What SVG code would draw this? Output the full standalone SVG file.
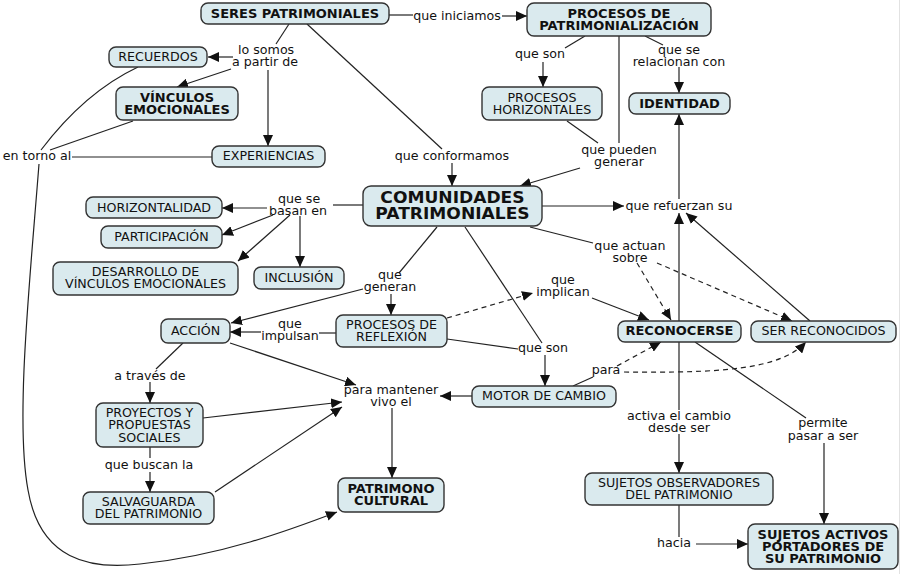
<svg xmlns="http://www.w3.org/2000/svg" width="904" height="574" viewBox="0 0 904 574">
<defs>
<marker id="ar" viewBox="0 0 11 10" markerWidth="11" markerHeight="10" refX="11" refY="5" orient="auto" markerUnits="userSpaceOnUse">
<path d="M0,0 L11,5 L0,10 z" fill="#111"/>
</marker>
<style>
.n rect{fill:#daeaee;stroke:#333;stroke-width:1.4}
.n text,.l text{font-family:"DejaVu Sans",Verdana,sans-serif;font-size:11.5px;fill:#111;text-anchor:middle;transform-box:fill-box;transform-origin:center;transform:scaleX(1.1)}
.b text{font-weight:bold;font-size:11.5px;transform:scaleX(1.13)}
.n text.big{font-weight:bold;font-size:15px;transform:scaleX(1.14)}
.c path,.c line{fill:none;stroke:#222;stroke-width:1.2}
.c .a{marker-end:url(#ar)}
.c .d{stroke-dasharray:5 4}
</style>
</defs>
<rect width="904" height="574" fill="#fff"/>
<line x1="899.5" y1="0" x2="899.5" y2="574" stroke="#e2e2e2" stroke-width="1"/>

<g class="c" id="connectors">
<line x1="389" y1="15" x2="413" y2="15"/>
<line class="a" x1="502" y1="16" x2="527" y2="16"/>
<line x1="289" y1="24" x2="276" y2="44"/>
<line class="a" x1="233" y1="57" x2="208" y2="57"/>
<line class="a" x1="231" y1="69" x2="177" y2="87"/>
<line class="a" x1="268" y1="70" x2="268" y2="146"/>
<line x1="307" y1="24" x2="442" y2="149"/>
<line class="a" x1="452" y1="163" x2="452" y2="186"/>
<line x1="585" y1="36" x2="565" y2="48"/>
<line class="a" x1="543" y1="62" x2="543" y2="87"/>
<line x1="619" y1="36" x2="619" y2="143"/>
<line x1="567" y1="121" x2="598" y2="143"/>
<line class="a" x1="580" y1="168" x2="520" y2="186"/>
<line x1="645" y1="36" x2="663" y2="45"/>
<line class="a" x1="679" y1="67" x2="679" y2="93"/>
<line class="a" x1="679" y1="199" x2="679" y2="114"/>
<line class="a" x1="542" y1="206" x2="624" y2="206"/>
<line class="a" x1="679" y1="321" x2="679" y2="213"/>
<line class="a" x1="810" y1="321" x2="686" y2="213"/>
<line x1="530" y1="227" x2="593" y2="243"/>
<line class="a d" x1="637" y1="263" x2="671" y2="320"/>
<line class="a d" x1="657" y1="263" x2="792" y2="321"/>
<line x1="465" y1="227" x2="542" y2="343"/>
<line x1="447" y1="339" x2="518" y2="349"/>
<line class="a" x1="545" y1="355" x2="545" y2="386"/>
<line x1="573" y1="386" x2="593" y2="377"/>
<line class="a d" x1="617" y1="366" x2="661" y2="342"/>
<path class="a d" d="M624,372 C720,373 780,370 806,342"/>
<line class="a" x1="472" y1="396" x2="440" y2="396"/>
<line x1="437" y1="227" x2="399" y2="273"/>
<line class="a" x1="363" y1="289" x2="231" y2="323"/>
<line class="a" x1="391" y1="294" x2="391" y2="315"/>
<line x1="336" y1="333" x2="319" y2="333"/>
<line class="a" x1="261" y1="332" x2="230" y2="332"/>
<line x1="363" y1="205" x2="333" y2="205"/>
<line class="a" x1="267" y1="208" x2="222" y2="208"/>
<line class="a" x1="273" y1="215" x2="222" y2="235"/>
<line class="a" x1="290" y1="215" x2="238" y2="261"/>
<line class="a" x1="300" y1="216" x2="300" y2="267"/>
<line x1="183" y1="343" x2="156" y2="369"/>
<line class="a" x1="150" y1="382" x2="150" y2="403"/>
<line class="a" x1="230" y1="343" x2="356" y2="385"/>
<line class="a" x1="203" y1="418" x2="342" y2="402"/>
<line x1="150" y1="447" x2="150" y2="458"/>
<line class="a" x1="150" y1="472" x2="150" y2="492"/>
<line class="a" x1="215" y1="492" x2="342" y2="407"/>
<line class="a" x1="392" y1="408" x2="392" y2="478"/>
<path d="M138,67 Q85,92 41,150"/>
<line x1="133" y1="121" x2="50" y2="150"/>
<line x1="212" y1="157" x2="72" y2="157"/>
<path class="a" d="M39,164 C30,280 15,420 28,490 C40,560 90,570 140,564 C220,556 290,530 337,512"/>
<line x1="679" y1="342" x2="679" y2="410"/>
<line class="a" x1="679" y1="434" x2="679" y2="473"/>
<line x1="695" y1="342" x2="806" y2="418"/>
<line class="a" x1="824" y1="443" x2="824" y2="524"/>
<line x1="679" y1="505" x2="679" y2="537"/>
<line class="a" x1="696" y1="544" x2="748" y2="544"/>
<line class="a d" x1="447" y1="318" x2="533" y2="293"/>
<line class="a" x1="592" y1="298" x2="649" y2="320"/>
</g>

<g class="l" id="labels">
<text x="457" y="20">que iniciamos</text>
<text><tspan x="266" y="54">lo somos</tspan><tspan x="265" y="66">a partir de</tspan></text>
<text x="37" y="160.5">en torno al</text>
<text x="452" y="160">que conformamos</text>
<text x="540" y="58">que son</text>
<text><tspan x="679" y="54">que se</tspan><tspan x="679" y="66">relacionan con</tspan></text>
<text><tspan x="619" y="154">que pueden</tspan><tspan x="619" y="166">generar</tspan></text>
<text x="679" y="210">que refuerzan su</text>
<text><tspan x="630" y="250">que actuan</tspan><tspan x="630" y="262">sobre</tspan></text>
<text><tspan x="563" y="284">que</tspan><tspan x="563" y="296">implican</tspan></text>
<text><tspan x="299" y="203">que se</tspan><tspan x="298" y="215">basan en</tspan></text>
<text><tspan x="390" y="279">que</tspan><tspan x="390" y="291">generan</tspan></text>
<text><tspan x="290" y="328">que</tspan><tspan x="290" y="340">impulsan</tspan></text>
<text x="543" y="352">que son</text>
<text x="606" y="374">para</text>
<text><tspan x="391" y="394">para mantener</tspan><tspan x="391" y="406">vivo el</tspan></text>
<text x="150" y="380">a través de</text>
<text x="149" y="469">que buscan la</text>
<text><tspan x="679" y="420">activa el cambio</tspan><tspan x="679" y="432">desde ser</tspan></text>
<text><tspan x="823" y="427">permite</tspan><tspan x="823" y="440">pasar a ser</tspan></text>
<text x="674" y="547">hacia</text>
</g>

<g id="seres" class="n b"><rect x="201" y="3" width="188" height="21" rx="7"/><text x="295" y="18">SERES PATRIMONIALES</text></g>
<g id="procesos-patrimonializacion" class="n b"><rect x="527" y="3" width="184" height="33" rx="7"/><text><tspan x="619" y="18">PROCESOS DE</tspan><tspan x="619" y="30.5">PATRIMONIALIZACIÓN</tspan></text></g>
<g id="recuerdos" class="n"><rect x="109" y="47" width="98" height="20" rx="7"/><text x="158" y="61">RECUERDOS</text></g>
<g id="vinculos" class="n b"><rect x="116" y="87" width="122" height="33" rx="7"/><text><tspan x="177" y="102">VÍNCULOS</tspan><tspan x="177" y="114">EMOCIONALES</tspan></text></g>
<g id="experiencias" class="n"><rect x="212" y="146" width="113" height="21" rx="7"/><text x="268.5" y="160.5">EXPERIENCIAS</text></g>
<g id="procesos-horizontales" class="n"><rect x="482" y="87" width="120" height="33" rx="7"/><text><tspan x="542" y="102">PROCESOS</tspan><tspan x="542" y="114">HORIZONTALES</tspan></text></g>
<g id="identidad" class="n b"><rect x="629" y="93" width="101" height="21" rx="7"/><text x="679.5" y="108">IDENTIDAD</text></g>
<g id="comunidades" class="n"><rect x="363" y="186" width="179" height="40" rx="8"/><text class="big"><tspan x="452.5" y="203">COMUNIDADES</tspan><tspan x="452.5" y="219">PATRIMONIALES</tspan></text></g>
<g id="horizontalidad" class="n"><rect x="86" y="197" width="136" height="21" rx="7"/><text x="154" y="212">HORIZONTALIDAD</text></g>
<g id="participacion" class="n"><rect x="101" y="226" width="121" height="22" rx="7"/><text x="161.5" y="241.5">PARTICIPACIÓN</text></g>
<g id="desarrollo" class="n"><rect x="53" y="262" width="185" height="33" rx="7"/><text><tspan x="145.5" y="276">DESARROLLO DE</tspan><tspan x="145.5" y="288">VÍNCULOS EMOCIONALES</tspan></text></g>
<g id="inclusion" class="n"><rect x="254" y="267" width="90" height="22" rx="7"/><text x="299" y="282.5">INCLUSIÓN</text></g>
<g id="accion" class="n"><rect x="161" y="319" width="69" height="24" rx="7"/><text x="195.5" y="335.5">ACCIÓN</text></g>
<g id="procesos-reflexion" class="n"><rect x="336" y="315" width="111" height="32" rx="7"/><text><tspan x="391.5" y="329">PROCESOS DE</tspan><tspan x="391.5" y="341">REFLEXIÓN</tspan></text></g>
<g id="reconocerse" class="n b"><rect x="618" y="321" width="123" height="21" rx="7"/><text x="679.5" y="335.5">RECONOCERSE</text></g>
<g id="ser-reconocidos" class="n"><rect x="751" y="321" width="145" height="21" rx="7"/><text x="823.5" y="335.5">SER RECONOCIDOS</text></g>
<g id="motor" class="n"><rect x="472" y="386" width="144" height="21" rx="7"/><text x="544" y="400.5">MOTOR DE CAMBIO</text></g>
<g id="proyectos" class="n"><rect x="96" y="403" width="107" height="44" rx="7"/><text><tspan x="149.5" y="417">PROYECTOS Y</tspan><tspan x="149.5" y="429.5">PROPUESTAS</tspan><tspan x="149.5" y="442">SOCIALES</tspan></text></g>
<g id="salvaguarda" class="n"><rect x="83" y="492" width="131" height="32" rx="7"/><text><tspan x="148.5" y="506">SALVAGUARDA</tspan><tspan x="148.5" y="518">DEL PATRIMONIO</tspan></text></g>
<g id="patrimono" class="n b"><rect x="338" y="478" width="106" height="34" rx="7"/><text><tspan x="391" y="493">PATRIMONO</tspan><tspan x="391" y="505">CULTURAL</tspan></text></g>
<g id="observadores" class="n"><rect x="585" y="473" width="188" height="32" rx="7"/><text><tspan x="679" y="487">SUJETOS OBSERVADORES</tspan><tspan x="679" y="499">DEL PATRIMONIO</tspan></text></g>
<g id="activos" class="n b"><rect x="748" y="524" width="150" height="45" rx="7"/><text><tspan x="823" y="539">SUJETOS ACTIVOS</tspan><tspan x="823" y="551">PORTADORES DE</tspan><tspan x="823" y="563">SU PATRIMONIO</tspan></text></g>
</svg>
